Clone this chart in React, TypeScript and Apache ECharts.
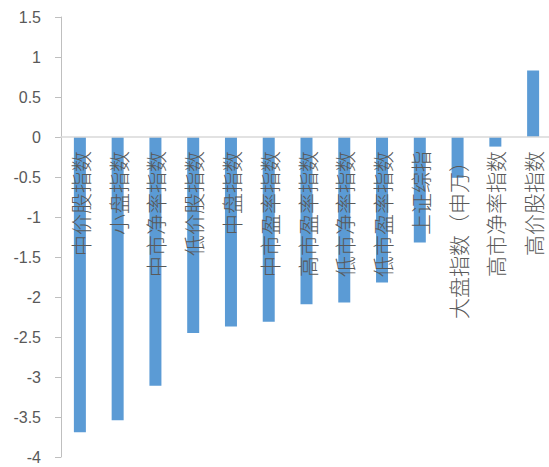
import React, { useEffect, useRef } from "react";
import * as echarts from "echarts";

const categories = [
  "中价股指数",
  "小盘指数",
  "中市净率指数",
  "低价股指数",
  "中盘指数",
  "中市盈率指数",
  "高市盈率指数",
  "低市净率指数",
  "低市盈率指数",
  "上证综指",
  "大盘指数（申万）",
  "高市净率指数",
  "高价股指数",
];
const values = [-3.69, -3.54, -3.11, -2.45, -2.37, -2.31, -2.09, -2.07, -1.82, -1.32, -0.51, -0.12, 0.83];
const yTicks = { min: -4, max: 1.5, interval: 0.5 };

export default function App() {
  const ref = useRef<HTMLDivElement>(null);
  useEffect(() => {
    if (!ref.current) return;
    const chart = echarts.init(ref.current, undefined, { renderer: "svg" });
    chart.setOption({
      animation: false,
      grid: { left: 61, top: 17, bottom: 10, right: -3, containLabel: false, outerBoundsMode: "none" },
      xAxis: {
        type: "category",
        data: categories,
        z: 5,
        axisLine: { onZero: true, lineStyle: { color: "#d9d9d9", width: 1.5 } },
        axisTick: { show: false },
        axisLabel: {
          interval: 0,
          rotate: 90,
          margin: -306,
          color: "#595959",
          fontSize: 21,
          fontWeight: 300,
          fontFamily: "Noto Sans CJK SC",
        },
      },
      yAxis: {
        type: "value",
        min: yTicks.min,
        max: yTicks.max,
        interval: yTicks.interval,
        splitLine: { show: false },
        axisLine: { show: true, lineStyle: { color: "#bfbfbf" } },
        axisTick: { show: true, length: 6, lineStyle: { color: "#bfbfbf" } },
        axisLabel: {
          color: "#595959",
          fontSize: 16,
          fontFamily: "Liberation Sans",
          margin: 20,
        },
      },
      series: [
        {
          type: "bar",
          data: values,
          barWidth: 12,
          z: 2,
          itemStyle: { color: "#5b9bd5" },
        },
      ],
    });
    return () => chart.dispose();
  }, []);
  return (
    <div
      ref={ref}
      style={{ position: "fixed", left: 0, top: 0, width: 549, height: 467, background: "#fff" }}
    />
  );
}
